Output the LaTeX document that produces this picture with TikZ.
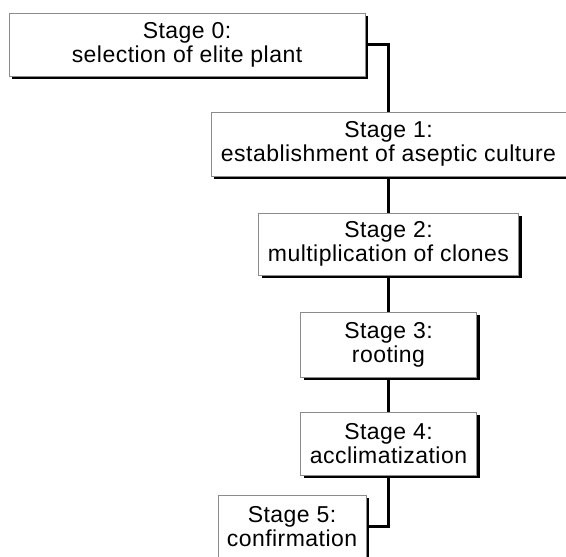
\documentclass[tikz,border=0pt]{standalone}
\usepackage{fontspec}
\setmainfont{Liberation Sans}[LetterSpace=2]
\usetikzlibrary{shadows}
\begin{document}
\begin{tikzpicture}[x=1pt,y=-1pt,
  stagebox/.style={draw=black!45, line width=0.8pt, fill=white, rectangle, inner sep=0pt,
    align=center, font=\fontsize{23}{24}\selectfont,
    drop shadow={shadow xshift=3pt, shadow yshift=-3pt, fill=black, opacity=1}},
  link/.style={line width=2.5pt, black}]
\useasboundingbox (0,0) rectangle (566,557);
\node[stagebox, minimum width=356pt, minimum height=63pt] (b0) at (187,44.5) {Stage 0:\\selection of elite plant};
\node[stagebox, minimum width=355pt, minimum height=64pt] (b1) at (388.5,144) {Stage 1:\\establishment of aseptic culture};
\node[stagebox, minimum width=260pt, minimum height=62pt] (b2) at (388.5,244) {Stage 2:\\multiplication of clones};
\node[stagebox, minimum width=176pt, minimum height=65pt] (b3) at (388.5,344.5) {Stage 3:\\rooting};
\node[stagebox, minimum width=176pt, minimum height=63pt] (b4) at (388.5,443.5) {Stage 4:\\acclimatization};
\node[stagebox, minimum width=148pt, minimum height=63pt] (b5) at (292,526.5) {Stage 5:\\confirmation};
\draw[link] ([xshift=3pt]b0.east) -| (b1.north);
\draw[link] ([yshift=-3pt]b1.south) -- (b2.north);
\draw[link] ([yshift=-3pt]b2.south) -- (b3.north);
\draw[link] ([yshift=-3pt]b3.south) -- (b4.north);
\draw[link] ([yshift=-3pt]b4.south) |- ([xshift=3pt]b5.east);
\end{tikzpicture}
\end{document}
